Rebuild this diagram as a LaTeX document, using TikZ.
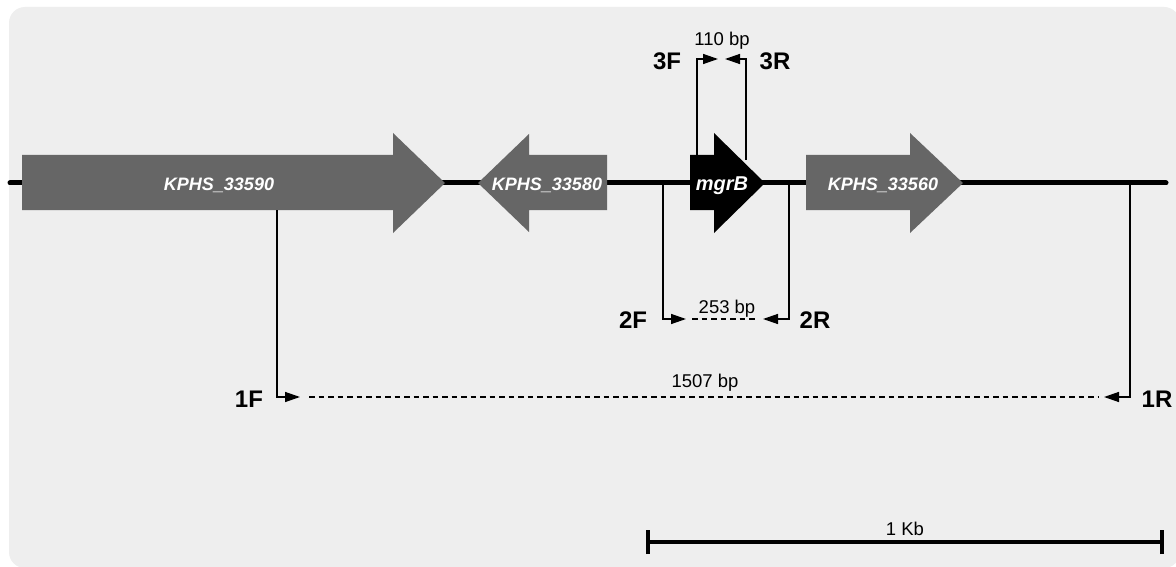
\documentclass[tikz,border=0pt]{standalone}
\usepackage{fontspec}
\setmainfont{Liberation Sans}
\usetikzlibrary{arrows.meta}
\definecolor{bggray}{HTML}{EEEEEE}
\definecolor{genegray}{HTML}{666666}
\begin{document}
\begin{tikzpicture}[x=1pt,y=-1pt,
  gene/.style={fill=genegray},
  genelabel/.style={font=\fontsize{18}{20}\selectfont\bfseries\itshape, text=white, inner sep=0pt, anchor=base},
  primerlabel/.style={font=\fontsize{24}{26}\selectfont\bfseries, inner sep=0pt, anchor=base},
  sizelabel/.style={font=\fontsize{18.5}{20}\selectfont, inner sep=0pt, anchor=base},
  primer/.style={line width=1.4pt, -{Triangle[length=15pt,width=10pt]}},
  amplicon/.style={line width=1.3pt, dash pattern=on 5.5pt off 4pt}]
\useasboundingbox (0,0) rectangle (1176,567);
\fill[white] (0,0) rectangle (1176,567);
\fill[bggray, rounded corners=16pt] (9,7) rectangle (1180,568);
% backbone
\coordinate (bbL) at (10,183);
\coordinate (bbR) at (1166,183);
\draw[line width=5pt, line cap=round] (bbL) -- (bbR);
% genes
\fill[gene] (22,155) -- (393,155) -- (393,133) -- (445,183) -- (393,233) -- (393,210) -- (22,210) -- cycle;
\fill[gene] (607,155) -- (529,155) -- (529,134) -- (478,183) -- (529,232) -- (529,210) -- (607,210) -- cycle;
\fill[black] (690,155) -- (714,155) -- (714,133) -- (765,183) -- (714,233) -- (714,210) -- (690,210) -- cycle;
\fill[gene] (806,155) -- (910,155) -- (910,133) -- (963,183) -- (910,233) -- (910,210) -- (806,210) -- cycle;
\node[genelabel] (g1) at (219,190) {KPHS\_33590};
\node[genelabel] (g2) at (547,190) {KPHS\_33580};
\node[genelabel, font=\fontsize{20}{22}\selectfont\bfseries\itshape] (g3) at (722,190) {mgrB};
\node[genelabel] (g4) at (883,190) {KPHS\_33560};
% primer pair 3
\coordinate (p3Fb) at (697,155);
\coordinate (p3Ft) at (718,59);
\coordinate (p3Rb) at (746,160);
\coordinate (p3Rt) at (725,59);
\draw[primer] (p3Fb) |- (p3Ft);
\draw[primer] (p3Rb) |- (p3Rt);
\node[primerlabel] (l3F) at (667,70) {3F};
\node[primerlabel] (l3R) at (775,70) {3R};
\node[sizelabel] (s3) at (722,46) {110 bp};
% primer pair 2
\coordinate (p2Fb) at (663,183);
\coordinate (p2Ft) at (686,319);
\coordinate (p2Rb) at (789,183);
\coordinate (p2Rt) at (763,319);
\draw[primer] (p2Fb) |- (p2Ft);
\draw[primer] (p2Rb) |- (p2Rt);
\coordinate (d2a) at (692,319);
\coordinate (d2b) at (758,319);
\draw[amplicon] (d2a) -- (d2b);
\node[primerlabel] (l2F) at (633,328) {2F};
\node[primerlabel] (l2R) at (815,328) {2R};
\node[sizelabel] (s2) at (727,313) {253 bp};
% primer pair 1
\coordinate (p1Fb) at (277,210);
\coordinate (p1Ft) at (300,397);
\coordinate (p1Rb) at (1130,183);
\coordinate (p1Rt) at (1104,397);
\draw[primer] (p1Fb) |- (p1Ft);
\draw[primer] (p1Rb) |- (p1Rt);
\coordinate (d1a) at (309,397);
\coordinate (d1b) at (1098,397);
\draw[amplicon] (d1a) -- (d1b);
\node[primerlabel] (l1F) at (249,407) {1F};
\node[primerlabel] (l1R) at (1157,407) {1R};
\node[sizelabel] (s1) at (705,387) {1507 bp};
% scale bar
\coordinate (sbL) at (648,542);
\coordinate (sbR) at (1162,542);
\draw[line width=3.8pt] (sbL) -- (sbR);
\draw[line width=3.8pt] ([yshift=-12pt]sbL) -- ([yshift=12pt]sbL);
\draw[line width=3.8pt] ([yshift=-12pt]sbR) -- ([yshift=12pt]sbR);
\node[sizelabel] (sb) at (905,535) {1 Kb};
\end{tikzpicture}
\end{document}
